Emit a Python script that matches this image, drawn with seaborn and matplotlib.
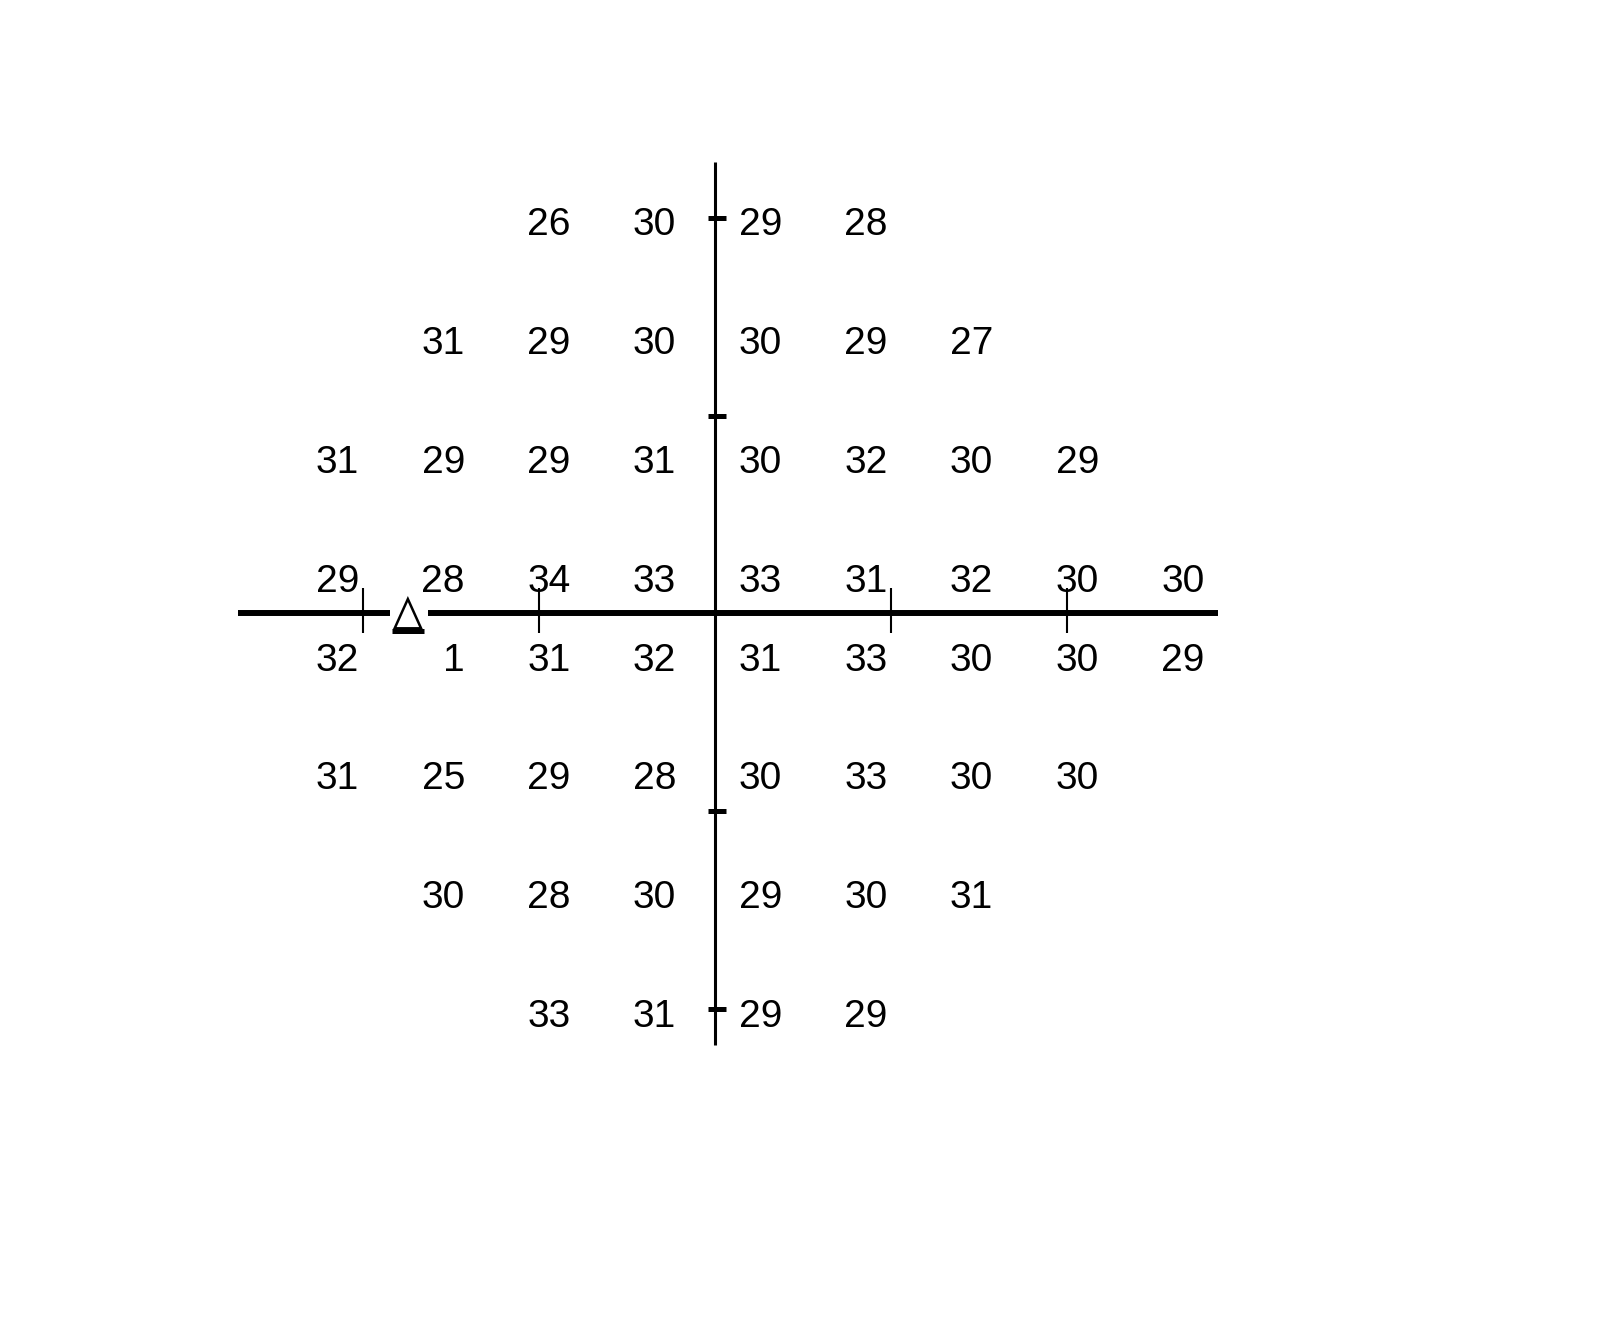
import numpy as np
import pandas as pd
import seaborn as sns
import matplotlib.pyplot as plt
from matplotlib.patches import Polygon

# visual field sensitivities (dB), rows from top (superior) to bottom (inferior)
row_y = [21, 15, 9, 3, -3, -9, -15, -21]
row_x_start = [-9, -15, -21, -21, -21, -21, -15, -9]
row_values = [
    [26, 30, 29, 28],
    [31, 29, 30, 30, 29, 27],
    [31, 29, 29, 31, 30, 32, 30, 29],
    [29, 28, 34, 33, 33, 31, 32, 30, 30],
    [32, 1, 31, 32, 31, 33, 30, 30, 29],
    [31, 25, 29, 28, 30, 33, 30, 30],
    [30, 28, 30, 29, 30, 31],
    [33, 31, 29, 29],
]
grid_step = 6

x_ticks = [-20, -10, 10, 20]
y_ticks = [-20, -10, 10, 20]
blind_spot = (-17.45, 0)

records = []
for y, x0, vals in zip(row_y, row_x_start, row_values):
    for i, v in enumerate(vals):
        records.append({"x": x0 + i * grid_step, "y": y, "value": v})
df = pd.DataFrame(records)

sns.set_theme(style="white")
plt.rcParams['font.family'] = ['Liberation Sans Narrow', 'Liberation Sans', 'DejaVu Sans']

fig = plt.figure(figsize=(16.04, 13.18), dpi=100)
ax = fig.add_axes([0, 0, 1, 1])
ax.set_xlim(-40.61, 50.47)
ax.set_ylim(-35.6, 31.0)
ax.axis("off")

# axes lines (horizontal broken around blind spot marker)
bx, by = blind_spot
ax.plot([-27.1, bx - 1.0], [0, 0], color="black", lw=4.3, solid_capstyle="butt")
ax.plot([bx + 1.15, 28.57], [0, 0], color="black", lw=4.3, solid_capstyle="butt")
ax.plot([0, 0], [-21.8, 22.83], color="black", lw=2.2, solid_capstyle="butt")

for t in x_ticks:
    ax.plot([t, t], [-1.0, 1.3], color="black", lw=1.5, solid_capstyle="butt")
for t in y_ticks:
    ax.plot([-0.4, 0.6], [t, t], color="black", lw=3.6, solid_capstyle="butt")

# blind spot triangle
tri = Polygon([[bx - 0.75, by - 0.75], [bx, by + 0.73], [bx + 0.75, by - 0.75]],
              closed=True, fill=False, edgecolor="black", lw=1.8)
ax.add_patch(tri)
ax.plot([bx - 0.9, bx + 0.92], [by - 0.86, by - 0.86], color="black", lw=3.6,
        solid_capstyle="butt")

# values, right-aligned next to each test location
for _, r in df.iterrows():
    dy = -1.9 if r["y"] > 0 else 0.11
    ax.text(r["x"] + 0.79, r["y"] + dy, str(int(r["value"])), ha="right",
            va="baseline", fontsize=28, color="black")

fig.savefig("out.png", dpi=100)
